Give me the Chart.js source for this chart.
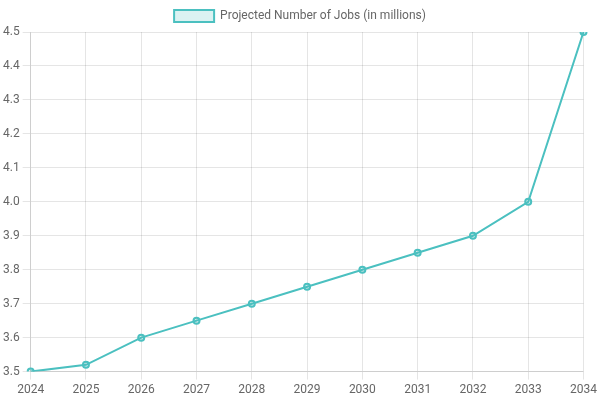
<!DOCTYPE html>
<html>
<head>
<meta charset="utf-8">
<script src="https://cdn.jsdelivr.net/npm/chart.js"></script>
<style>
html,body{margin:0;padding:0;background:#fff;}
#wrap{width:600px;height:400px;}
</style>
</head>
<body>
<div id="wrap"><canvas id="c"></canvas></div>
<script>
const years = ['2024','2025','2026','2027','2028','2029','2030','2031','2032','2033','2034'];
const jobs = [3.5, 3.52, 3.6, 3.65, 3.7, 3.75, 3.8, 3.85, 3.9, 4.0, 4.5];
const seriesLabel = 'Projected Number of Jobs (in millions)';

Chart.defaults.font.family = 'Roboto, sans-serif';

new Chart(document.getElementById('c'), {
  type: 'line',
  data: {
    labels: years,
    datasets: [{
      label: seriesLabel,
      data: jobs,
      borderColor: 'rgba(75,192,192,1)',
      backgroundColor: 'rgba(75,192,192,0.2)',
      borderWidth: 2,
      tension: 0,
      fill: false
    }]
  },
  options: {
    responsive: true,
    maintainAspectRatio: false,
    animation: false,
    scales: {
      y: { min: 3.5, max: 4.5, ticks: { stepSize: 0.1 } }
    }
  }
});
</script>
</body>
</html>
